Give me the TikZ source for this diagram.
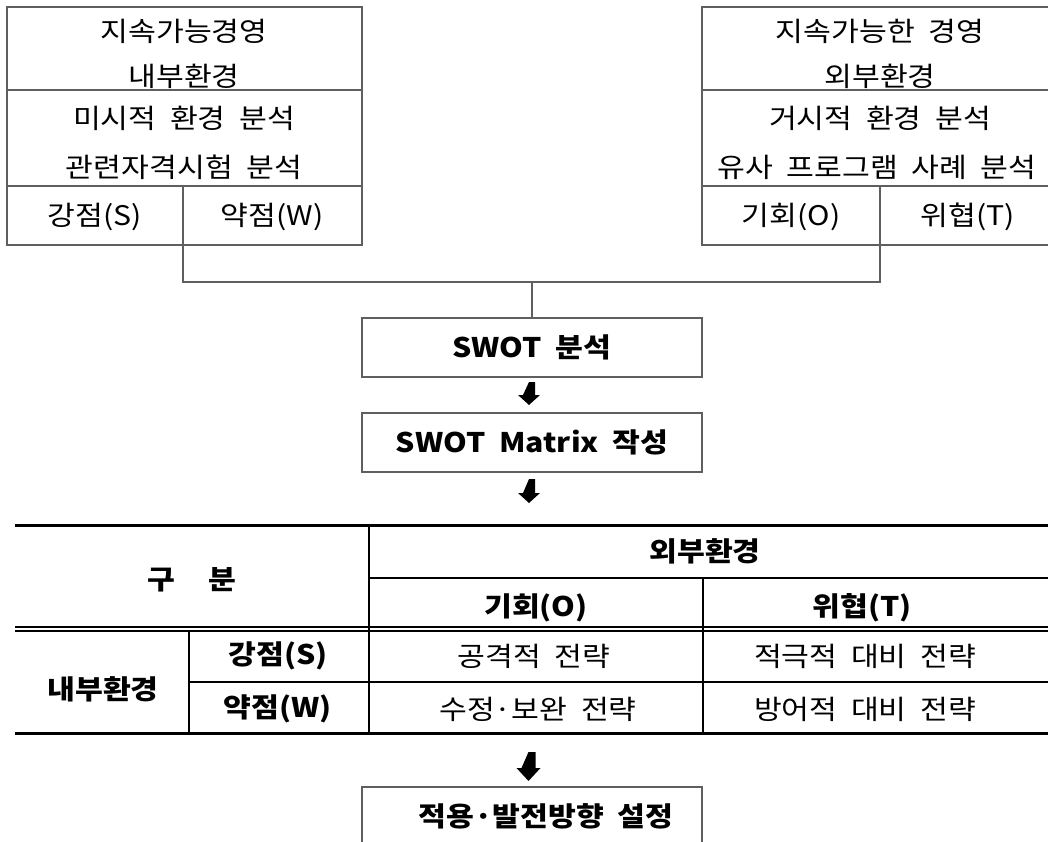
\documentclass[tikz,border=0pt]{standalone}
\usepackage{fontspec}
\newfontfamily\kr[FakeStretch=1.12,WordSpace=2]{Noto Sans CJK KR}
\definecolor{boxgray}{RGB}{95,95,95}
\begin{document}
\begin{tikzpicture}[x=1pt,y=-1pt,
  box/.style={draw=boxgray,line width=1.4pt},
  rule/.style={draw=black,line width=1.2pt},
  thickrule/.style={draw=black,line width=3pt},
  lbl/.style={font={\kr\fontsize{27}{32}\selectfont},inner sep=0pt,anchor=center},
  blbl/.style={font={\kr\bfseries\fontsize{27}{32}\selectfont},inner sep=0pt,anchor=center},
  stepbox/.style={draw=boxgray,line width=1.4pt,minimum width=340pt,minimum height=59pt,inner sep=0pt},
  darrow/.style={fill=black,draw=none}
]
\useasboundingbox (0,0) rectangle (1048,842);
\clip (0,0) rectangle (1048,842);
\fill[white] (0,0) rectangle (1048,842);

% ---- left box (internal)
\draw[box] (7,7) rectangle (362,245);
\draw[box] (7,90) -- (362,90);
\draw[box] (7,186) -- (362,186);
\draw[box] (183,186) -- (183,245);
\node[lbl] (l1) at (184,31) {지속가능경영};
\node[lbl] (l2) at (184,76) {내부환경};
\node[lbl] (l3) at (184,118) {미시적 환경 분석};
\node[lbl] (l4) at (184,167) {관련자격시험 분석};
\node[lbl] (lS) at (95,217) {강점(S)};
\node[lbl] (lW) at (272,217) {약점(W)};

% ---- right box (external)
\draw[box] (1060,7) -- (702,7) -- (702,245) -- (1060,245);
\draw[box] (702,90) -- (1060,90);
\draw[box] (702,186) -- (1060,186);
\draw[box] (880,186) -- (880,245);
\node[lbl] (r1) at (880,31) {지속가능한 경영};
\node[lbl] (r2) at (880,76) {외부환경};
\node[lbl] (r3) at (880,118) {거시적 환경 분석};
\node[lbl] (r4) at (877,167) {유사 프로그램 사례 분석};
\node[lbl] (rO) at (791,217) {기회(O)};
\node[lbl] (rT) at (968,217) {위협(T)};

% ---- connector
\coordinate (cl) at (183,245);
\coordinate (cr) at (880,245);
\coordinate (cj) at (532,282);

% ---- SWOT boxes
\node[stepbox,blbl,minimum width=340pt,minimum height=59pt] (swot) at (532,347.5) {SWOT 분석};
\node[stepbox,blbl,minimum width=340pt,minimum height=59pt] (matrix) at (532,442.5) {SWOT Matrix 작성};
\node[stepbox,minimum width=340pt,minimum height=59pt] (final) at (532,816.5) {};
\node[blbl] (finalt) at (546,816) {적용·발전방향 설정};

\draw[box] (cl) |- (cj) -| (cr);
\draw[box] (cj) -- (swot.north);

% ---- arrows
\coordinate (a1) at (532,382);
\coordinate (a2) at (532,479);
\coordinate (a3) at (532,752);
\fill[darrow] (a1) ++(-3,0) -- ++(6,0) -- ++(0,13) -- ++(5,0) -- ++(-11,10) -- ++(-11,-10) -- ++(5,0) -- cycle;
\fill[darrow] (a2) ++(-3,0) -- ++(6,0) -- ++(0,14) -- ++(5,0) -- ++(-11,10) -- ++(-11,-10) -- ++(5,0) -- cycle;
\fill[darrow] (a3) ++(-3.5,0) -- ++(7,0) -- ++(0,16) -- ++(5,0) -- ++(-12,13) -- ++(-12,-13) -- ++(5,0) -- cycle;

% ---- matrix table
\draw[thickrule] (15,525) -- (1050,525);
\draw[thickrule] (15,733) -- (1050,733);
\draw[rule] (369,525) -- (369,733);
\draw[rule] (703,578) -- (703,733);
\draw[rule] (369,578) -- (1050,578);
\draw[rule] (15,627) -- (1050,627);
\draw[rule] (15,631) -- (1050,631);
\draw[rule] (189,631) -- (189,733);
\draw[rule] (189,682) -- (1050,682);

\node[blbl] (tg) at (192,580) {구\hspace{34pt}분};
\node[blbl] (tout) at (705,551) {외부환경};
\node[blbl] (tO) at (536,608) {기회(O)};
\node[blbl] (tT) at (862,608) {위협(T)};
\node[blbl] (tin) at (103,689) {내부환경};
\node[blbl] (tS) at (278,656) {강점(S)};
\node[blbl] (tW) at (278,709) {약점(W)};
\node[lbl] (so) at (534,656) {공격적 전략};
\node[lbl] (st) at (865,656) {적극적 대비 전략};
\node[lbl] (wo) at (538,709) {수정·보완 전략};
\node[lbl] (wt) at (865,709) {방어적 대비 전략};
\end{tikzpicture}
\end{document}
